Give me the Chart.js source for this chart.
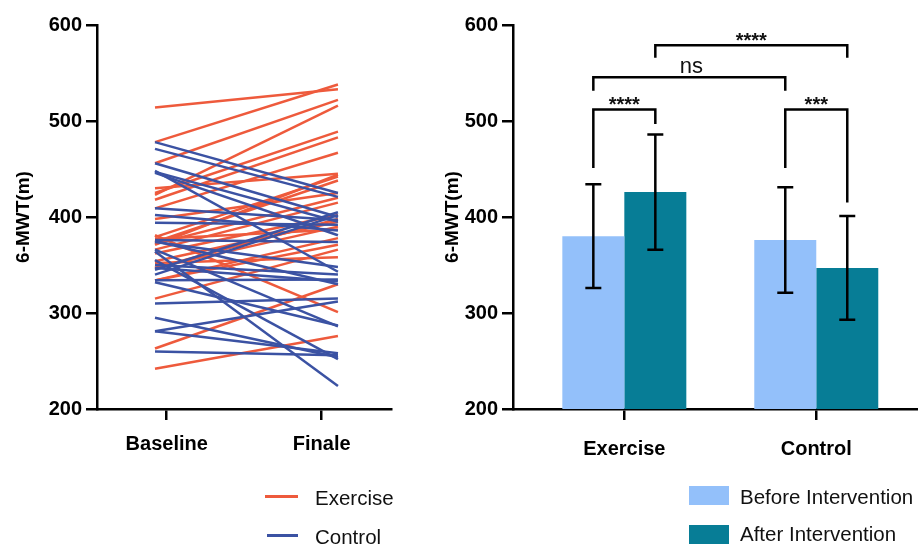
<!DOCTYPE html>
<html>
<head>
<meta charset="utf-8">
<script src="https://cdn.jsdelivr.net/npm/chart.js@4.4.1/dist/chart.umd.min.js"></script>
<style>
html,body{margin:0;padding:0;background:#fff;}
#wrap{position:relative;width:918px;height:546px;overflow:hidden;font-family:"Liberation Sans",Arial,sans-serif;}
#wrap canvas{position:absolute;left:0;top:0;}
.lt{position:absolute;font-size:20.5px;line-height:20px;color:#111;white-space:nowrap;}
.sw{position:absolute;}
</style>
</head>
<body>
<div id="wrap">
  <canvas id="left" width="918" height="546"></canvas>
  <canvas id="right" width="918" height="546"></canvas>
  <div class="sw" style="left:265px;top:495px;width:33px;height:3px;background:#EE5A3C"></div>
  <div class="lt" style="left:315px;top:488px">Exercise</div>
  <div class="sw" style="left:267px;top:534px;width:31px;height:3px;background:#3B52A3"></div>
  <div class="lt" style="left:315px;top:527px">Control</div>
  <div class="sw" style="left:689px;top:486px;width:40px;height:19px;background:#93C0FA"></div>
  <div class="lt" style="left:740px;top:487px">Before Intervention</div>
  <div class="sw" style="left:689px;top:525px;width:40px;height:19px;background:#077D96"></div>
  <div class="lt" style="left:740px;top:524px">After Intervention</div>
</div>
<script>
// ---------- data ----------
const timeLabels = ['Baseline', 'Finale'];
const exerciseBaseline = [514,478,456,423,425,418,409,379,374,371,366,362,354,347,377,334,263,381,242,315,334,347,398,352,372,430];
const exerciseFinale   = [533,538,522,516,489,483,467,442,438,444,415,402,395,390,387,371,330,301,276,366,378,398,425,358,420,445];
const controlBaseline  = [478,471,456,447,446,394,374,366,364,350,347,334,332,310,295,281,260,281,409,402,376,345,448,375,340,355];
const controlFinale    = [425,421,400,395,381,392,348,286,224,340,333,335,287,315,254,312,256,258,397,386,374,405,343,330,402,252];

const barCategories = ['Exercise', 'Control'];
const beforeMeans = [380, 376];
const beforeSD    = [54, 55];
const afterMeans  = [426, 347];
const afterSD     = [60, 54];

const yTicks = [200, 300, 400, 500, 600];

// significance brackets: [category, series] endpoints, bracket level and leg ends (in m)
const sigBrackets = [
  {from:[0,0], to:[0,1], level:512,   leftEnd:451,   rightEnd:497,   label:'****'},
  {from:[0,0], to:[1,0], level:545.5, leftEnd:531.5, rightEnd:531.5, label:'ns'},
  {from:[0,1], to:[1,1], level:579,   leftEnd:566,   rightEnd:566,   label:'****'},
  {from:[1,0], to:[1,1], level:512,   leftEnd:451,   rightEnd:415,   label:'***'}
];

// ---------- styles ----------
const RED = '#EE5A3C', BLUE = '#3B52A3', LIGHT = '#93C0FA', TEAL = '#077D96';
const FONT = '"Liberation Sans", Arial, sans-serif';
Chart.defaults.font.family = FONT;
Chart.defaults.color = '#000';

function yScale(titlePad, w){
  return {
    type:'linear', min:200, max:600,
    afterBuildTicks(ax){ ax.ticks = yTicks.map(v=>({value:v})); },
    afterFit(ax){ ax.width = w; },
    ticks:{font:{size:20, weight:'bold'}, color:'#000', padding:4},
    grid:{display:true, drawOnChartArea:false, drawTicks:true, tickLength:11, color:'#000', lineWidth:2.5},
    border:{display:true, color:'#000', width:2.5},
    title:{display:true, text:'6-MWT(m)', font:{size:19, weight:'bold'}, color:'#000', padding:{top:titlePad, bottom:0}}
  };
}

// ---------- left chart ----------
const lineSets = [];
exerciseBaseline.forEach((b,i)=>{
  lineSets.push({data:[{x:0,y:b},{x:1,y:exerciseFinale[i]}], borderColor:RED, borderWidth:2.5, pointRadius:0, order:2});
});
controlBaseline.forEach((b,i)=>{
  lineSets.push({data:[{x:0,y:b},{x:1,y:controlFinale[i]}], borderColor:BLUE, borderWidth:2.5, pointRadius:0, order:1});
});
const timeTickPos = [0.064, 0.911];

new Chart(document.getElementById('left'), {
  type:'line',
  data:{datasets:lineSets},
  options:{
    responsive:false, animation:false, events:[],
    layout:{padding:{left:0, top:25, right:527, bottom:0}},
    plugins:{legend:{display:false}, tooltip:{enabled:false}},
    scales:{
      x:{
        type:'linear', min:-0.317, max:1.290,
        afterBuildTicks(ax){ ax.ticks = timeTickPos.map(v=>({value:v})); },
        afterFit(ax){ ax.height = 137; },
        ticks:{font:{size:20, weight:'bold'}, color:'#000', padding:12, maxRotation:0,
               callback:(v,i)=>timeLabels[i]},
        grid:{display:true, drawOnChartArea:false, drawTicks:true, tickLength:11, color:'#000', lineWidth:2.5},
        border:{display:true, color:'#000', width:2.5}
      },
      y: yScale(12, 97)
    }
  }
});

// ---------- right chart ----------
const annot = {
  id:'annot',
  afterDatasetsDraw(chart){
    const ctx = chart.ctx, ys = chart.scales.y;
    const px = (cat, ds) => chart.getDatasetMeta(ds).data[cat].x;
    ctx.save();
    ctx.strokeStyle = '#000'; ctx.lineWidth = 2.5; ctx.lineJoin = 'miter'; ctx.lineCap = 'butt';
    [[beforeMeans, beforeSD], [afterMeans, afterSD]].forEach(([m, s], ds)=>{
      m.forEach((v, i)=>{
        const x = px(i, ds), t = ys.getPixelForValue(v + s[i]), b = ys.getPixelForValue(v - s[i]);
        ctx.beginPath();
        ctx.moveTo(x, t); ctx.lineTo(x, b);
        ctx.moveTo(x - 8, t); ctx.lineTo(x + 8, t);
        ctx.moveTo(x - 8, b); ctx.lineTo(x + 8, b);
        ctx.stroke();
      });
    });
    sigBrackets.forEach(br=>{
      const x1 = px(br.from[0], br.from[1]), x2 = px(br.to[0], br.to[1]);
      const yb = ys.getPixelForValue(br.level);
      ctx.beginPath();
      ctx.moveTo(x1, ys.getPixelForValue(br.leftEnd));
      ctx.lineTo(x1, yb); ctx.lineTo(x2, yb);
      ctx.lineTo(x2, ys.getPixelForValue(br.rightEnd));
      ctx.stroke();
      ctx.fillStyle = '#111'; ctx.textAlign = 'center'; ctx.textBaseline = 'alphabetic';
      if (br.label === 'ns') {
        ctx.font = '22px ' + FONT;
        ctx.fillText(br.label, (x1 + x2) / 2 + 2, yb - 4);
      } else {
        ctx.font = 'bold 20px ' + FONT;
        ctx.fillText(br.label, (x1 + x2) / 2, yb + 1.5);
      }
    });
    ctx.restore();
  }
};

new Chart(document.getElementById('right'), {
  type:'bar',
  data:{
    datasets:[
      {label:'Before Intervention', data:beforeMeans.map((v,i)=>({x:i+1, y:v})), backgroundColor:LIGHT, borderWidth:0},
      {label:'After Intervention',  data:afterMeans.map((v,i)=>({x:i+1, y:v})),  backgroundColor:TEAL,  borderWidth:0}
    ]
  },
  options:{
    responsive:false, animation:false, events:[],
    layout:{padding:{left:430, top:25, right:0, bottom:0}},
    datasets:{bar:{categoryPercentage:0.646, barPercentage:1}},
    plugins:{legend:{display:false}, tooltip:{enabled:false}},
    scales:{
      x:{
        type:'linear', min:0.42, max:2.53, offset:false,
        afterBuildTicks(ax){ ax.ticks = barCategories.map((c,i)=>({value:i+1})); },
        afterFit(ax){ ax.height = 137; },
        ticks:{font:{size:20, weight:'bold'}, color:'#000', padding:17, maxRotation:0,
               callback:(v,i)=>barCategories[i]},
        grid:{display:true, offset:false, drawOnChartArea:false, drawTicks:true, tickLength:11, color:'#000', lineWidth:2.5},
        border:{display:true, color:'#000', width:2.5}
      },
      y: yScale(11, 83)
    }
  },
  plugins:[annot]
});
</script>
</body>
</html>
